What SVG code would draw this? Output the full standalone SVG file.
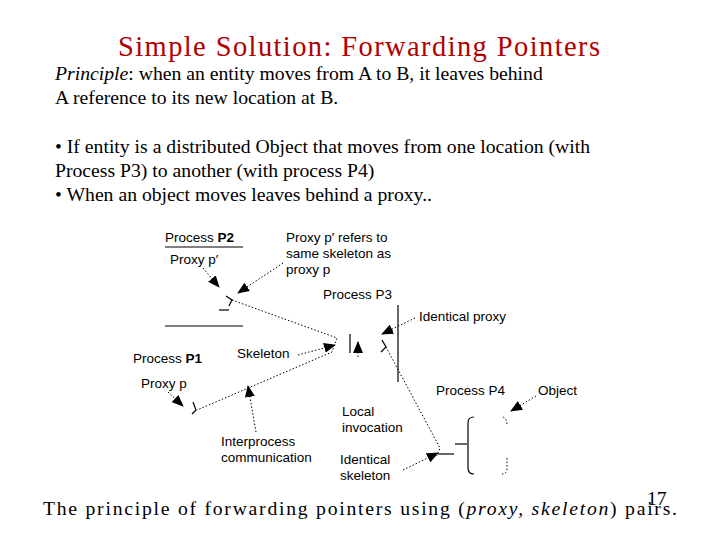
<svg xmlns="http://www.w3.org/2000/svg" width="720" height="540" viewBox="0 0 720 540">
<style>
.t{font-family:"Liberation Serif",serif;font-size:19.7px;fill:#000}
.s{font-family:"Liberation Sans",sans-serif;font-size:13.5px;fill:#000}
.d{stroke:#000;stroke-width:1;stroke-dasharray:1.5 2;fill:none}
.l{stroke:#000;stroke-width:1.2;fill:none}
</style>
<defs><marker id="a" markerWidth="12" markerHeight="10" refX="11" refY="5" orient="auto" markerUnits="userSpaceOnUse"><path d="M0,0L12,5L0,10z" fill="#000"/></marker></defs>
<rect width="720" height="540" fill="#fff"/>
<text x="118" y="56" textLength="482" font-family="Liberation Serif,serif" font-size="28.5" fill="#b00000">Simple Solution: Forwarding Pointers</text>
<text x="55" y="80" class="t"><tspan font-style="italic">Principle</tspan>: when an entity moves from A to B, it leaves behind</text>
<text x="55" y="104" class="t">A reference to its new location at B.</text>
<text x="55" y="153" class="t">• If entity is a distributed Object that moves from one location (with</text>
<text x="55" y="177" class="t">Process P3) to another (with process P4)</text>
<text x="55" y="201" class="t">• When an object moves leaves behind a proxy..</text>
<g id="labels">
<text x="165" y="242" class="s">Process <tspan font-weight="bold">P2</tspan></text>
<text x="170" y="264" class="s">Proxy p′</text>
<text x="286" y="242" class="s">Proxy p′ refers to</text>
<text x="286" y="258" class="s">same skeleton as</text>
<text x="286" y="274" class="s">proxy p</text>
<text x="323" y="299" class="s">Process P3</text>
<text x="419" y="321" class="s">Identical proxy</text>
<text x="133" y="363" class="s">Process <tspan font-weight="bold">P1</tspan></text>
<text x="237" y="358" class="s">Skeleton</text>
<text x="141" y="388" class="s">Proxy p</text>
<text x="436" y="395" class="s">Process P4</text>
<text x="538" y="395" class="s">Object</text>
<text x="342" y="416" class="s">Local</text>
<text x="342" y="432" class="s">invocation</text>
<text x="221" y="446" class="s">Interprocess</text>
<text x="221" y="462" class="s">communication</text>
<text x="340" y="464" class="s">Identical</text>
<text x="340" y="480" class="s">skeleton</text>
</g>
<g id="shapes">
<line x1="165" y1="247" x2="243" y2="247" class="l"/>
<line x1="165" y1="326" x2="243" y2="326" class="l"/>
<line x1="219" y1="310" x2="229" y2="310" class="l"/>
<polyline points="226,296 232,300 229,306" class="l" stroke-width="0.8"/>
<polyline points="193,402 196,410 192,414" class="l" stroke-width="0.8"/>
<line x1="350" y1="334" x2="350" y2="353" class="l"/>
<line x1="398" y1="305" x2="398" y2="382" class="l"/>
<polyline points="382,340 386,347 381,352" class="l" stroke-width="0.8"/>
<line x1="438" y1="454" x2="454" y2="454" class="l"/>
<line x1="455" y1="444" x2="467" y2="444" class="l"/>
<path d="M474,417 Q468,417 468,423 L468,468 Q468,474 474,474" class="l"/>
<path d="M503,417 Q507,419 507,425 M507,458 L507,468 Q507,474 502,474" class="d"/>
</g>
<g id="connectors">
<polyline points="232,300 337,338 332,352 197,410" class="d"/>
<polyline points="386,347 440,448 437,456" class="d"/>
<line x1="203" y1="268" x2="219" y2="287" class="d" marker-end="url(#a)"/>
<line x1="283" y1="263" x2="238" y2="293" class="d" marker-end="url(#a)"/>
<line x1="298" y1="355" x2="335" y2="345" class="d" marker-end="url(#a)"/>
<line x1="358" y1="357" x2="358" y2="342" class="d" marker-end="url(#a)"/>
<line x1="415" y1="318" x2="382" y2="334" class="d" marker-end="url(#a)"/>
<line x1="168" y1="392" x2="183" y2="406" class="d" marker-end="url(#a)"/>
<line x1="256" y1="432" x2="248" y2="386" class="d" marker-end="url(#a)"/>
<line x1="536" y1="396" x2="511" y2="411" class="d" marker-end="url(#a)"/>
<line x1="403" y1="470" x2="438" y2="453" class="d" marker-end="url(#a)"/>
</g>
<text x="43" y="515" textLength="634" class="t" font-size="27">The principle of forwarding pointers using (<tspan font-style="italic">proxy, skeleton</tspan>) pairs.</text>
<text x="647" y="505" class="t" font-size="11">17</text>
</svg>
